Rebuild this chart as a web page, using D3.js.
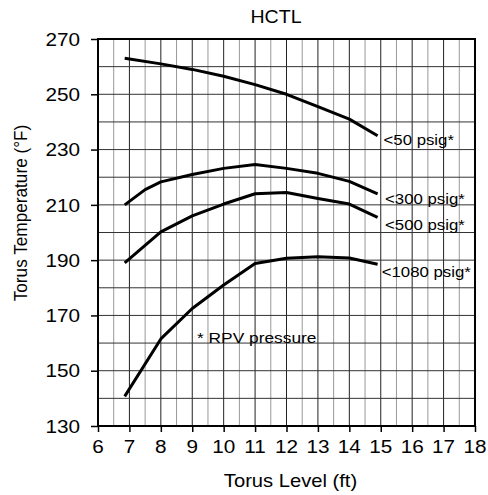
<!DOCTYPE html>
<html>
<head>
<meta charset="utf-8">
<script src="https://cdn.jsdelivr.net/npm/d3@7"></script>
<style>
 body{margin:0;background:#fff;}
 text{font-family:"Liberation Sans",Arial,sans-serif;fill:#000;}
</style>
</head>
<body>
<script>
// torus level (ft) vs torus temp (F), one array per pressure curve
var psig50   = [[6.85,263],[8,261],[9,259],[10,256.5],[11,253.5],[12,250],[13,245.5],[14,241],[14.9,235]];
var psig300  = [[6.85,210],[7.5,215.5],[8,218.3],[9,221],[10,223.2],[11,224.6],[12,223.2],[13,221.4],[14,218.5],[14.9,214]];
var psig500  = [[6.85,189],[8,200.2],[9,206],[10,210.3],[11,214],[12,214.5],[13,212.3],[14,210.3],[14.9,205.5]];
var psig1080 = [[6.85,140.7],[8,161.5],[9,172.5],[10,181],[11,188.8],[12,190.7],[13,191.2],[14,190.8],[14.9,188.5]];
var curveNames = ["<50 psig*","<300 psig*","<500 psig*","<1080 psig*"];
var xTicks = d3.range(6,19,1);
var yTicks = d3.range(130,271,20);

var svg = d3.select("body").append("svg")
    .attr("width",488)
    .attr("height",495);

var x = d3.scaleLinear().domain([6,18]).range([98,475]);
var y = d3.scaleLinear().domain([130,270]).range([426,39]);

// the original text looks a bit wide, stretch it
var SX = 1.12;
function label(px,py,txt,size,anchor){
  return svg.append("g")
    .attr("transform","translate("+px+","+py+") scale("+SX+",1)")
    .append("text")
    .attr("text-anchor",anchor||"start")
    .style("font-size",size+"px")
    .text(txt);
}

// grid - half ft lines lighter
svg.append("g").selectAll("line")
    .data(d3.range(6.5,18,0.5))
    .enter().append("line")
    .attr("x1",function(d){return x(d);})
    .attr("x2",function(d){return x(d);})
    .attr("y1",y(130)).attr("y2",y(270))
    .attr("stroke",function(d){return d%1===0 ? "#222" : "#999";})
    .attr("stroke-width",1);

svg.append("g").selectAll("line")
    .data(d3.range(140,270,10))
    .enter().append("line")
    .attr("x1",x(6)).attr("x2",x(18))
    .attr("y1",function(d){return y(d);})
    .attr("y2",function(d){return y(d);})
    .attr("stroke","#333")
    .attr("stroke-width",1);

// axes (ticks only, labels drawn by hand below)
var xAxis = svg.append("g")
    .attr("transform","translate(0,"+y(130)+")")
    .call(d3.axisBottom(x).tickValues(xTicks).tickSize(6).tickFormat(""));
var yAxis = svg.append("g")
    .attr("transform","translate("+x(6)+",0)")
    .call(d3.axisLeft(y).tickValues(yTicks).tickSize(7).tickFormat(""));
[xAxis,yAxis].forEach(function(a){
  a.select(".domain").remove();
  a.selectAll("line").attr("stroke","#000").attr("stroke-width",1.5);
});

xTicks.forEach(function(t){
  label(x(t),y(130)+27,d3.format("d")(t),18.5,"middle");
});
yTicks.forEach(function(t){
  label(80,y(t)+6.7,d3.format("d")(t),18.5,"end");
});

// frame
svg.append("rect")
    .attr("x",x(6)).attr("y",y(270))
    .attr("width",x(18)-x(6)).attr("height",y(130)-y(270))
    .attr("fill","none")
    .attr("stroke","#000")
    .attr("stroke-width",2);

var line = d3.line()
    .x(function(d){return x(d[0]);})
    .y(function(d){return y(d[1]);});

var curves = [psig50,psig300,psig500,psig1080];
var labelX = [383.5,385,385,381.7];
var labelY = [145,204,230,276.7];
curves.forEach(function(c,i){
  svg.append("path")
    .attr("d",line(c))
    .attr("fill","none")
    .attr("stroke","#000")
    .attr("stroke-width",3)
    .attr("stroke-linejoin","round");
  label(labelX[i],labelY[i],curveNames[i],15);
});

label(197,342.7,"* RPV pressure",15.5);
label(276,22.7,"HCTL",17.5,"middle");
label(290.5,486.5,"Torus Level (ft)",18,"middle");

svg.append("g")
    .attr("transform","translate(26.5,213) scale("+SX+",1) rotate(-90)")
    .append("text")
    .attr("text-anchor","middle")
    .style("font-size","17.2px")
    .text("Torus Temperature (°F)");
</script>
</body>
</html>
